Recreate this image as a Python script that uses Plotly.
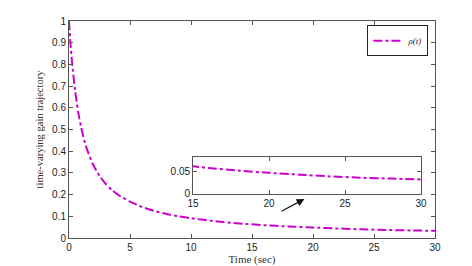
import plotly.graph_objects as go

t_sec = [0, 0.1, 0.25, 0.5, 0.75, 1, 1.25, 1.5, 2, 2.5, 3, 3.5, 4, 5, 6, 7, 8, 9, 10,
         12, 14, 16, 18, 20, 22, 24, 26, 28, 30]
rho = [1.0, 0.91, 0.81, 0.68, 0.58, 0.51, 0.45, 0.405, 0.335, 0.287, 0.25, 0.222, 0.200,
       0.168, 0.143, 0.125, 0.111, 0.100, 0.091, 0.077, 0.067, 0.059, 0.053, 0.048,
       0.044, 0.040, 0.037, 0.035, 0.033]

x_ticks = [0, 5, 10, 15, 20, 25, 30]
y_ticks = [0, 0.1, 0.2, 0.3, 0.4, 0.5, 0.6, 0.7, 0.8, 0.9, 1]
y_tick_text = ["0", "0.1", "0.2", "0.3", "0.4", "0.5", "0.6", "0.7", "0.8", "0.9", "1"]
inset_x_ticks = [15, 20, 25, 30]
inset_y_ticks = [0, 0.05]
inset_y_text = ["0", "0.05"]

MAG = "#cc00cc"
AX = "#555555"
tickfont = dict(family="Liberation Sans, Arial", size=10, color="#222222")
serif = "Liberation Serif, DejaVu Serif"

fig = go.Figure()
fig.add_trace(go.Scatter(x=t_sec, y=rho, mode="lines", name="<i>ρ(t)</i>",
                         line=dict(color=MAG, width=2, dash="dashdot", shape="spline", smoothing=0.6),
                         xaxis="x", yaxis="y"))
fig.add_trace(go.Scatter(x=t_sec, y=rho, mode="lines", showlegend=False,
                         line=dict(color=MAG, width=2, dash="dashdot", shape="spline", smoothing=0.6),
                         xaxis="x2", yaxis="y2"))

common = dict(showgrid=False, zeroline=False, showline=True, linecolor=AX, linewidth=1,
              mirror="ticks", ticks="inside", ticklen=4, tickcolor=AX, tickfont=tickfont,
              automargin=False)

fig.update_layout(
    width=464, height=258,
    margin=dict(l=61, r=37, t=13, b=28),
    paper_bgcolor="white", plot_bgcolor="white",
    xaxis=dict(domain=[0, 1], range=[0, 30], tickvals=x_ticks,
               title=dict(text="Time (sec)", standoff=2,
                          font=dict(family=serif, size=11, color="#333333")),
               **common),
    yaxis=dict(domain=[0, 1], range=[0, 1], tickvals=y_ticks, ticktext=y_tick_text,
               title=dict(text="time-varying gain trajectory", standoff=6,
                          font=dict(family=serif, size=10.5, color="#333333")),
               **common),
    xaxis2=dict(domain=[0.339, 0.962], range=[15, 30], tickvals=inset_x_ticks,
                anchor="y2", **common),
    yaxis2=dict(domain=[0.203, 0.373], range=[0, 0.084], tickvals=inset_y_ticks,
                ticktext=inset_y_text, anchor="x2", **common),
    legend=dict(x=0.982, y=0.98, xanchor="right", yanchor="top",
                bgcolor="white", bordercolor="#222222", borderwidth=1,
                font=dict(family=serif, size=9, color="#222222"),
                itemwidth=30, tracegroupgap=0),
    showlegend=True,
)

fig.add_annotation(x=19.3, y=0.18, ax=17.3, ay=0.12, xref="x", yref="y",
                   axref="x", ayref="y", text="", showarrow=True,
                   arrowhead=2, arrowsize=1.3, arrowwidth=1.2, arrowcolor="#111111")

fig.write_html("out.html")
